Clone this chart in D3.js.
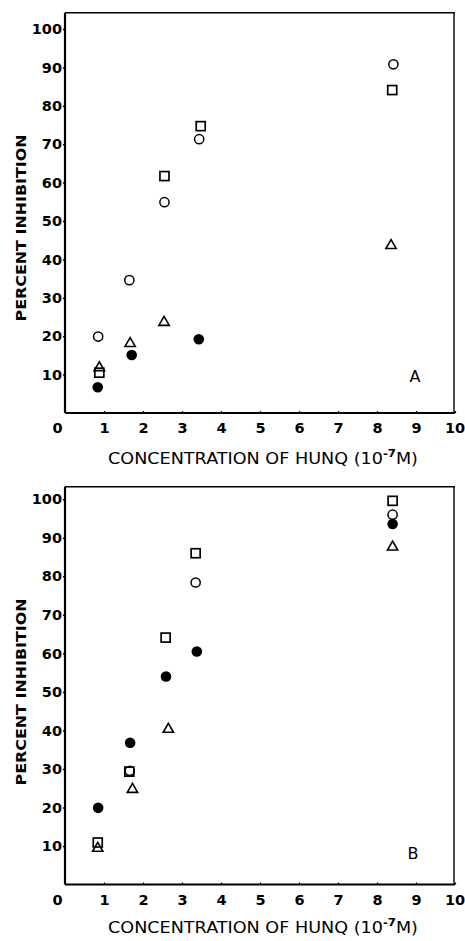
<!DOCTYPE html>
<html>
<head>
<meta charset="utf-8">
<script src="https://cdn.jsdelivr.net/npm/d3@7"></script>
<style>
  html, body { margin: 0; padding: 0; background: #fff; }
  svg { display: block; }
</style>
</head>
<body>
<svg id="chart" width="465" height="941"></svg>
<script>
// ---------- data ----------
const xTicks = [0, 1, 2, 3, 4, 5, 6, 7, 8, 9, 10];
const yTicks = [10, 20, 30, 40, 50, 60, 70, 80, 90, 100];
const xTitle = "CONCENTRATION OF HUNQ (10";
const yTitle = "PERCENT INHIBITION";

// Panel A
const aOpenCircle   = [[0.85, 19.9], [1.65, 34.6], [2.55, 54.9], [3.44, 71.3], [8.42, 90.8]];
const aSquare       = [[0.88, 10.5], [2.55, 61.7], [3.48, 74.7], [8.39, 84.1]];
const aTriangle     = [[0.88, 11.8], [1.67, 18.1], [2.54, 23.6], [8.36, 43.6]];
const aFilledCircle = [[0.84, 6.7], [1.71, 15.1], [3.43, 19.2]];

// Panel B
const bOpenCircle   = [[1.66, 29.5], [3.35, 78.4], [8.40, 96.0]];
const bSquare       = [[0.84, 10.9], [1.65, 29.3], [2.58, 64.1], [3.35, 86.0], [8.40, 99.6]];
const bTriangle     = [[0.84, 9.4], [1.73, 24.7], [2.65, 40.3], [8.40, 87.6]];
const bFilledCircle = [[0.85, 19.9], [1.67, 36.8], [2.59, 54.0], [3.38, 60.5], [8.40, 93.6]];

const svg = d3.select("#chart");
const FONT = "'DejaVu Sans', 'Liberation Sans', sans-serif";

function panel(opts) {
  const x = d3.scaleLinear().domain([0, 10]).range([65, 455]);
  const y = d3.scaleLinear().domain([0, 100]).range([opts.y0, opts.y100]);
  const yTopPx = opts.boxTop;
  const g = svg.append("g");

  // frame (top & right thinner)
  g.append("line").attr("x1", x(0)).attr("x2", x(10)).attr("y1", yTopPx).attr("y2", yTopPx)
    .attr("stroke", "#000").attr("stroke-width", 1.6);
  g.append("line").attr("x1", x(10) - 1).attr("x2", x(10) - 1).attr("y1", yTopPx).attr("y2", y(0))
    .attr("stroke", "#000").attr("stroke-width", 1.4);

  // x axis
  const xAxis = d3.axisBottom(x).tickValues(xTicks).tickSize(-2).tickPadding(10)
    .tickFormat(d3.format("d"));
  const gx = g.append("g").attr("transform", `translate(0,${y(0)})`).call(xAxis);
  gx.select(".domain").attr("stroke-width", 2.2).attr("d", `M${x(0)},0H${x(10)}`);
  gx.selectAll(".tick line").attr("stroke-width", 1.2);
  gx.selectAll(".tick text")
    .attr("font-family", FONT).attr("font-size", 14.5).attr("font-weight", "bold")
    .attr("fill", "#000")
    .attr("dx", d => d === 0 ? -8 : (d === 10 ? -0.5 : 0));

  // y axis
  const yAxis = d3.axisLeft(y).tickValues(yTicks).tickSize(2).tickPadding(1)
    .tickFormat(d3.format("d"));
  const gy = g.append("g").attr("transform", `translate(${x(0)},0)`).call(yAxis);
  gy.select(".domain").attr("stroke-width", 2.2).attr("d", `M0,${yTopPx}V${y(0)}`);
  gy.selectAll(".tick line").attr("stroke-width", 1.5);
  gy.selectAll(".tick text")
    .attr("font-family", FONT).attr("font-size", 14.5).attr("font-weight", "bold")
    .attr("fill", "#000");

  // x title
  const t = g.append("text")
    .attr("x", 108).attr("y", opts.xTitleY)
    .attr("font-family", FONT).attr("font-size", 15).attr("fill", "#000")
    .attr("textLength", 310).attr("lengthAdjust", "spacingAndGlyphs");
  t.append("tspan").text(xTitle);
  t.append("tspan").attr("dy", -7).attr("font-size", 10).attr("font-weight", "bold").text("-7");
  t.append("tspan").attr("dy", 7).text("M)");

  // y title
  g.append("text")
    .attr("transform", `translate(26,${opts.yTitleMid}) rotate(-90)`)
    .attr("text-anchor", "middle")
    .attr("font-family", FONT).attr("font-size", 14).attr("font-weight", "bold")
    .attr("fill", "#000")
    .attr("textLength", 187).attr("lengthAdjust", "spacingAndGlyphs")
    .text(yTitle);

  // panel letter
  g.append("text").attr("x", opts.letterX).attr("y", opts.letterY)
    .attr("text-anchor", "middle")
    .attr("font-family", FONT).attr("font-size", 16).attr("fill", "#000")
    .text(opts.letter);

  // markers
  const m = g.append("g");
  m.selectAll(".sq").data(opts.square).join("rect")
    .attr("x", d => x(d[0]) - 4.5).attr("y", d => y(d[1]) - 4.5)
    .attr("width", 9).attr("height", 9)
    .attr("fill", "none").attr("stroke", "#000").attr("stroke-width", 1.7);
  const tri = d3.symbol().type(d3.symbolTriangle).size(46);
  m.selectAll(".tr").data(opts.triangle).join("path")
    .attr("d", tri)
    .attr("transform", d => `translate(${x(d[0])},${y(d[1])})`)
    .attr("fill", "none").attr("stroke", "#000").attr("stroke-width", 1.6);
  m.selectAll(".fc").data(opts.filled).join("circle")
    .attr("cx", d => x(d[0])).attr("cy", d => y(d[1])).attr("r", 5.3)
    .attr("fill", "#000");
  m.selectAll(".oc").data(opts.open).join("circle")
    .attr("cx", d => x(d[0])).attr("cy", d => y(d[1])).attr("r", 4.6)
    .attr("fill", "none").attr("stroke", "#000").attr("stroke-width", 1.5);
}

panel({
  y0: 413, y100: 29, boxTop: 12.7,
  xTitleY: 464, yTitleMid: 228,
  letter: "A", letterX: 415, letterY: 382,
  open: aOpenCircle, square: aSquare, triangle: aTriangle, filled: aFilledCircle
});

panel({
  y0: 884.5, y100: 499.3, boxTop: 486.7,
  xTitleY: 933, yTitleMid: 692,
  letter: "B", letterX: 413, letterY: 859,
  open: bOpenCircle, square: bSquare, triangle: bTriangle, filled: bFilledCircle
});
</script>
</body>
</html>
